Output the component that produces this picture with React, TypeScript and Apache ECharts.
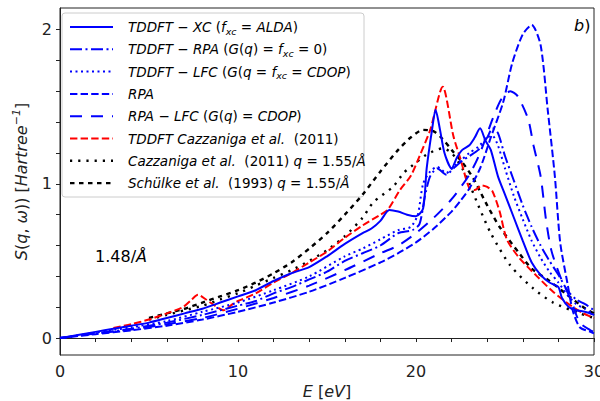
import React, { useEffect, useRef } from "react";
import * as echarts from "echarts";

// ---- data (E in eV, S in Hartree^-1) ----
const E_XC = [0,1,2,3,4,5,6,7,8,9,10,11,12,13,14,15,16,17,17.5,18,18.5,19,19.5,20,20.4,20.6,20.9,21.1,21.35,21.6,22,22.3,22.6,23,23.3,23.6,23.9,24.2,24.6,25,25.5,26,26.5,27,27.5,28,28.2,28.6,29,29.5,30];
const S_XC = [0,0.02,0.04,0.06,0.08,0.10,0.13,0.16,0.19,0.23,0.27,0.31,0.37,0.42,0.46,0.53,0.61,0.68,0.71,0.76,0.83,0.82,0.80,0.79,0.84,1.10,1.35,1.48,1.35,1.20,1.10,1.17,1.22,1.25,1.30,1.36,1.28,1.22,1.05,0.93,0.78,0.63,0.49,0.41,0.36,0.33,0.26,0.20,0.18,0.17,0.15];

const E_TRPA = [0,2,4,6,8,10,11,12,13,14,15,16,17,18,19,19.8,20.2,20.5,20.8,21.2,21.7,22.1,22.6,23,23.5,24,24.3,24.6,25,25.5,26,26.5,27,27.5,28,28.5,29,29.5,30];
const S_TRPA = [0,0.03,0.06,0.10,0.15,0.21,0.24,0.29,0.33,0.38,0.43,0.50,0.55,0.60,0.68,0.70,0.74,0.92,1.05,1.10,1.06,1.10,1.15,1.18,1.22,1.30,1.36,1.33,1.18,1.02,0.86,0.72,0.60,0.50,0.41,0.31,0.25,0.22,0.18];

const E_TLFC = [0,2,4,6,8,10,12,14,16,17,18,19,19.7,20.1,20.4,20.8,21.2,21.7,22.2,22.6,23,23.5,24,24.3,24.6,25,25.5,26,26.5,27,27.5,28,28.5,29,29.5,30];
const S_TLFC = [0,0.035,0.07,0.11,0.17,0.23,0.31,0.40,0.53,0.58,0.64,0.70,0.72,0.80,1.0,1.08,1.11,1.07,1.12,1.16,1.20,1.24,1.30,1.31,1.25,1.10,0.92,0.77,0.63,0.52,0.43,0.36,0.28,0.22,0.19,0.15];

const E_RPA = [0,2,4,6,8,10,12,14,16,18,19,20,21,22,22.5,23,23.6,24.2,24.9,25.4,26,26.5,27,27.4,27.8,28.1,28.5,28.8,29.2,29.8,30];
const S_RPA = [0,0.025,0.05,0.08,0.12,0.17,0.23,0.30,0.39,0.49,0.55,0.62,0.71,0.82,0.89,0.97,1.1,1.3,1.53,1.78,1.97,2.03,1.9,1.48,1.05,0.62,0.36,0.18,0.07,0.04,0.03];

const E_RLFC = [0,2,4,6,8,10,12,14,16,18,19,20,21,22,23,23.6,24.3,24.8,25.3,25.7,26.3,26.6,27,27.3,27.6,28.1,28.7,29.2,29.8,30];
const S_RLFC = [0,0.03,0.055,0.09,0.13,0.19,0.26,0.34,0.44,0.55,0.60,0.68,0.78,0.90,1.06,1.2,1.42,1.55,1.60,1.57,1.42,1.25,1.05,0.77,0.57,0.40,0.25,0.10,0.05,0.04];

const E_TCAZ = [3,4,5,6,6.9,7.4,7.75,8.2,8.7,9.2,9.7,10,11,12,13,14,15,16,17,18,18.4,19.1,19.7,20.2,20.8,21.5,22.1,22.5,23,23.3,23.7,24,24.3,24.7,25.1,25.8,26.8,27.7,28.7,29.4,30];
const S_TCAZ = [0.065,0.09,0.12,0.16,0.20,0.25,0.28,0.25,0.21,0.18,0.22,0.24,0.29,0.36,0.42,0.49,0.56,0.65,0.73,0.80,0.83,0.96,1.05,1.18,1.35,1.63,1.31,1.16,0.97,0.96,0.99,0.98,0.95,0.82,0.64,0.52,0.40,0.30,0.21,0.16,0.13];

const E_CAZ = [5,6,7,8,9,10,11,12,13,14,15,16,17,17.6,18.7,19.3,19.7,20.6,21.5,22,22.6,23,23.5,24.2,25.3,26.6,27.7,29.2,30];
const S_CAZ = [0.12,0.15,0.18,0.21,0.25,0.29,0.34,0.39,0.44,0.50,0.57,0.66,0.78,0.88,0.98,1.07,1.11,1.19,1.23,1.20,1.10,1.00,0.86,0.68,0.47,0.32,0.23,0.16,0.13];

const E_SCH = [5,6,7,8,9,10,11,12,13,14,15,16,17,18,19,19.7,20.4,21,21.5,22,22.6,23.2,23.6,24,24.7,25.8,26.5,27.5,28.5,29.4,30];
const S_SCH = [0.13,0.16,0.19,0.23,0.27,0.31,0.36,0.42,0.49,0.58,0.68,0.80,0.93,1.08,1.22,1.30,1.35,1.34,1.29,1.22,1.14,1.04,0.95,0.86,0.72,0.55,0.45,0.37,0.28,0.20,0.16];

const X_TICKS = [0,2,4,6,8,10,12,14,16,18,20,22,24,26,28,30];
const X_LABELS = [0,10,20,30];
const Y_TICKS = [0,0.2,0.4,0.6,0.8,1,1.2,1.4,1.6,1.8,2];
const Y_LABELS = [0,1,2];

const LEGEND_LABELS = [
  "{i|TDDFT − XC }{n|(}{i|f}{sub|xc}{n| = }{i|ALDA}{n|)}",
  "{i|TDDFT − RPA }{n|(}{i|G}{n|(}{i|q}{n|) = }{i|f}{sub|xc}{n| = 0)}",
  "{i|TDDFT − LFC }{n|(}{i|G}{n|(}{i|q}{n| = }{i|f}{sub|xc}{n| = }{i|CDOP}{n|)}",
  "{i|RPA}",
  "{i|RPA − LFC }{n|(}{i|G}{n|(}{i|q}{n|) = }{i|CDOP}{n|)}",
  "{i|TDDFT Cazzaniga et al.}{n|  (2011)}",
  "{i|Cazzaniga et al.}{n|  (2011) }{i|q}{n| = 1.55/}{i|Å}",
  "{i|Schülke et al.}{n|  (1993) }{i|q}{n| = 1.55/}{i|Å}",
];

const FONT = "DejaVu Sans";

const zip = (e: number[], s: number[]) => e.map((x, i) => [x, s[i]]);

export default function App() {
  const ref = useRef<HTMLDivElement>(null);
  useEffect(() => {
    document.body.style.margin = "0";
    const chart = echarts.init(ref.current!, null, { renderer: "svg", width: 600, height: 401 });
    const styles = [
      { color: "#0000ff", dash: "solid" as any, w: 2 },
      { color: "#0000ff", dash: [12, 3.5, 2, 3.5], w: 2 },
      { color: "#0000ff", dash: [2, 3.5], w: 2 },
      { color: "#0000ff", dash: [7.4, 3.2], w: 2 },
      { color: "#0000ff", dash: [12, 9], w: 2 },
      { color: "#ff0000", dash: [7.4, 3.2], w: 2 },
      { color: "#000000", dash: [2.2, 6], w: 2.4 },
      { color: "#000000", dash: [4.5, 4.5], w: 2.4 },
    ];
    const datasets = [
      zip(E_XC, S_XC), zip(E_TRPA, S_TRPA), zip(E_TLFC, S_TLFC), zip(E_RPA, S_RPA),
      zip(E_RLFC, S_RLFC), zip(E_TCAZ, S_TCAZ), zip(E_CAZ, S_CAZ), zip(E_SCH, S_SCH),
    ];
    const series = datasets.map((d, k) => ({
      type: "line",
      data: d,
      symbol: "none",
      showSymbol: false,
      smooth: 0.25,
      z: 10 - k,
      lineStyle: { color: styles[k].color, width: styles[k].w, type: styles[k].dash },
      itemStyle: { color: styles[k].color },
    }));

    const rich = {
      i: { fontStyle: "italic", fontSize: 13.5, fontFamily: FONT, color: "#000", lineHeight: 18 },
      n: { fontSize: 13.5, fontFamily: FONT, color: "#000", lineHeight: 18 },
      sub: { fontStyle: "italic", fontSize: 9.5, fontFamily: FONT, color: "#000", lineHeight: 11, verticalAlign: "bottom" },
    };
    const rowY0 = 27;
    const rowDy = 22.3;
    const legendChildren: any[] = [
      {
        type: "rect",
        shape: { x: 62, y: 13, width: 302, height: 184, r: 3 },
        style: { fill: "rgba(255,255,255,0.85)", stroke: "#cccccc", lineWidth: 1 },
      },
    ];
    LEGEND_LABELS.forEach((lab, k) => {
      const y = rowY0 + k * rowDy;
      legendChildren.push({
        type: "line",
        shape: { x1: 70, y1: y, x2: 113, y2: y },
        style: {
          stroke: styles[k].color,
          lineWidth: styles[k].w,
          lineDash: styles[k].dash === "solid" ? null : styles[k].dash,
        },
      });
      legendChildren.push({
        type: "text",
        x: 128,
        y: y,
        style: { text: lab, rich, verticalAlign: "middle", align: "left", fontSize: 13.5, fontFamily: FONT, fill: "#000" },
      });
    });

    const option: any = {
      animation: false,
      backgroundColor: "#fff",
      grid: {
        left: 60, right: 6, top: 8, bottom: 46,
        show: true, borderColor: "#222", borderWidth: 1,
        containLabel: false, outerBoundsMode: "none",
      },
      xAxis: {
        type: "value",
        min: 0,
        max: 30,
        splitLine: { show: false },
        axisLine: { show: true, lineStyle: { color: "#222", width: 1 } },
        axisTick: { show: true, customValues: X_TICKS, length: 4, lineStyle: { color: "#222" } },
        axisLabel: { customValues: X_LABELS, fontSize: 16, fontFamily: FONT, color: "#222", margin: 8, hideOverlap: false },
        name: "{i|E}{n| [}{i|eV}{n|]}",
        nameLocation: "middle",
        nameGap: 27,
        nameTextStyle: {
          rich: {
            i: { fontStyle: "italic", fontSize: 16, fontFamily: FONT, color: "#222" },
            n: { fontSize: 16, fontFamily: FONT, color: "#222" },
          },
        },
      },
      yAxis: {
        type: "value",
        min: -0.11,
        max: 2.14,
        splitLine: { show: false },
        axisLine: { show: true, lineStyle: { color: "#222", width: 1 } },
        axisTick: { show: true, customValues: Y_TICKS, length: 4, lineStyle: { color: "#222" } },
        axisLabel: { customValues: Y_LABELS, fontSize: 16, fontFamily: FONT, color: "#222", margin: 8 },
        name: "{i|S}{n|(}{i|q}{n|, }{i|ω}{n|)) [}{i|Hartree}{sup|−1}{n|]}",
        nameLocation: "middle",
        nameGap: 29,
        nameRotate: 90,
        nameTextStyle: {
          rich: {
            i: { fontStyle: "italic", fontSize: 16, fontFamily: FONT, color: "#222", lineHeight: 20 },
            n: { fontSize: 16, fontFamily: FONT, color: "#222", lineHeight: 20 },
            sup: { fontStyle: "italic", fontSize: 11, fontFamily: FONT, color: "#222", lineHeight: 12, verticalAlign: "top" },
          },
        },
      },
      series,
      graphic: [
        { type: "group", z: 100, children: legendChildren },
        {
          type: "text",
          x: 95,
          y: 256,
          z: 100,
          style: {
            text: "{n|1.48/}{i|Å}",
            verticalAlign: "middle",
            rich: {
              n: { fontSize: 16, fontFamily: FONT, color: "#222" },
              i: { fontSize: 16, fontFamily: FONT, color: "#222", fontStyle: "italic" },
            },
          },
        },
        {
          type: "text",
          x: 574,
          y: 25,
          z: 100,
          style: {
            text: "{i|b}{n|)}",
            verticalAlign: "middle",
            rich: {
              n: { fontSize: 16, fontFamily: FONT, color: "#222" },
              i: { fontSize: 16, fontFamily: FONT, color: "#222", fontStyle: "italic" },
            },
          },
        },
      ],
    };
    chart.setOption(option);
    return () => chart.dispose();
  }, []);
  return (
    <div
      ref={ref}
      style={{ position: "fixed", left: 0, top: 0, width: 600, height: 401, overflow: "hidden" }}
    />
  );
}
